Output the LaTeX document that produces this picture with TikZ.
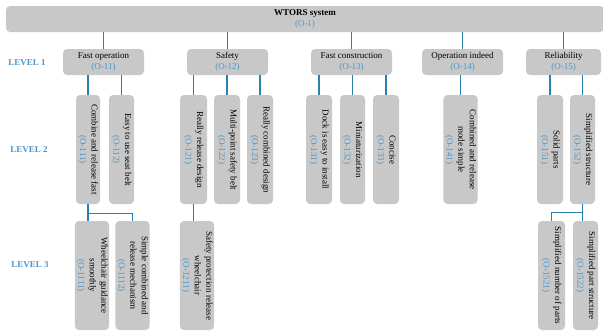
\documentclass[tikz,border=0pt]{standalone}
\usepackage{fontspec}
\setmainfont{Liberation Serif}
\definecolor{linkblue}{HTML}{2B80AE}
\definecolor{codeblue}{HTML}{4A96CC}
\definecolor{boxgray}{HTML}{C8C8C8}
\newcommand{\oid}[1]{\textcolor{codeblue}{(#1)}}

\begin{document}
\begin{tikzpicture}[x=1pt,y=-1pt,font=\fontsize{9}{11.5}\selectfont,
	box/.style={fill=boxgray,rounded corners=4pt,align=center,inner sep=1.5pt},
	vbox/.style={box,rotate=-90,minimum width=109pt},
	link/.style={draw=linkblue,line width=1.2pt},
	level/.style={text=codeblue,font=\fontsize{9}{11.5}\selectfont\bfseries}]
	\useasboundingbox (0,0) rectangle (603,333);
	\def\ytwo{149.5}
	\def\ythree{275.5}
	% system and level 1
	\node[box,minimum width=598pt,minimum height=26pt] (top) at (305,19) {\textbf{WTORS system}\\\oid{O-1}};
	\node[box,minimum width=81pt,minimum height=26pt] (l11) at (103.5,62) {Fast operation\\\oid{O-11}};
	\node[box,minimum width=81pt,minimum height=26pt] (l12) at (227.5,62) {Safety\\\oid{O-12}};
	\node[box,minimum width=81pt,minimum height=26pt] (l13) at (351.5,62) {Fast construction\\\oid{O-13}};
	\node[box,minimum width=81pt,minimum height=26pt] (l14) at (462.5,62) {Operation indeed\\\oid{O-14}};
	\node[box,minimum width=75pt,minimum height=26pt] (l15) at (563.5,62) {Reliability\\\oid{O-15}};
	% level 2
	\foreach \n/\x/\w/\t in {111/88/24/{Combine and release fast},112/121.5/25/{Easy to use seat belt},
		121/193.5/27/{Really release design},122/227/26/{Multi-point safety belt},123/260/26/{Really combined design},
		131/319/26/{Dock is easy to install},132/352.5/25/{Miniaturization},133/386/26/{Concise},
		141/460.5/33/{Combined and release\\mode simple},151/550/26/{Solid parts},152/582.5/25/{Simplified structure}}
		\node[vbox,minimum height=\w pt] (l\n) at (\x,\ytwo) {\t\\\oid{O-\n}};
	% level 3
	\foreach \n/\x/\w/\t in {1111/92/32/{Wheelchair guidance\\smoothly},1112/132.5/33/{Simple combined and\\release mechanism},
		1211/197/34/{Safety protection release\\wheelchair},1521/551.5/27/{Simplified number of parts},
		1522/585.5/25/{Simplified part structure}}
		\node[vbox,minimum height=\w pt] (l\n) at (\x,\ythree) {\t\\\oid{O-\n}};
	\node[level] (lv1) at (27,63) {LEVEL 1};
	\node[level] (lv2) at (29,150) {LEVEL 2};
	\node[level] (lv3) at (30,265) {LEVEL 3};
	% connectors
	\foreach \c in {11,...,15}
		\draw[link] (top.south -| l\c.north) -- (l\c.north);
	\foreach \p/\c in {11/111,11/112,12/121,12/122,12/123,13/131,13/132,13/133,14/141,15/151,15/152}
		\draw[link] (l\p.south -| l\c.west) -- (l\c.west);
	\draw[link] (l111.east) -- ++(0,9) coordinate (j11) -| (l1112.west);
	\draw[link] (j11) -- (j11 |- l1111.west);
	\draw[link] (l121.east) -- (l121.east |- l1211.west);
	\draw[link] (l152.east) -- ++(0,8) coordinate (j15) -| (l1521.west);
	\draw[link] (j15) -- (j15 |- l1522.west);
\end{tikzpicture}
\end{document}
